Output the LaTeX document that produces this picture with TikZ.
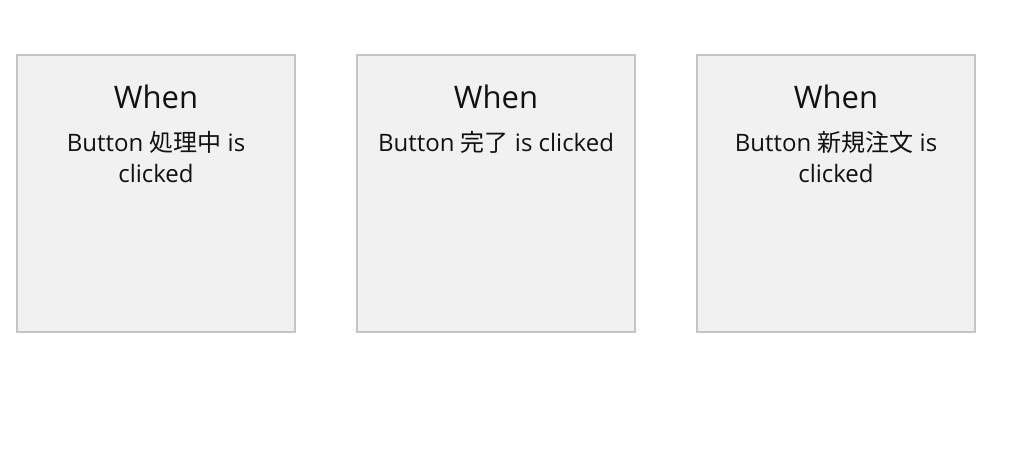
\documentclass[tikz,border=0pt]{standalone}
\usepackage{fontspec}
\setmainfont{Open Sans}
\newfontfamily\cjkfont{Noto Sans CJK JP}
\usetikzlibrary{calc}
\definecolor{boxline}{HTML}{C0C5CA}
\definecolor{boxfill}{HTML}{F0F1F0}
\definecolor{textcol}{HTML}{111111}

\begin{document}
\begin{tikzpicture}[
            x=1pt, y=-1pt,
            trigger box/.style={
                draw=boxline, fill=boxfill, line width=1.5pt,
                minimum width=278pt, minimum height=277pt,
                inner sep=0pt
            },
            title text/.style={
                font=\fontsize{31}{36}\selectfont, text=textcol,
                anchor=base, inner sep=0pt
            },
            event text/.style={
                font=\fontsize{24}{31}\selectfont, text=textcol,
                align=center, anchor=base, inner sep=0pt
            }
            ]

            \useasboundingbox (0,0) rectangle (1016,452);

            % the base of an event text is its last line
            \foreach \i/\x/\dy/\label in {1/156/128/{Button {\cjkfont 処理中} is\\clicked},
                                          2/496/97/{Button {\cjkfont 完了} is clicked},
                                          3/836/128/{Button {\cjkfont 新規注文} is\\clicked}} {
                \node[trigger box] (box\i) at (\x, 193.5) {};
                \node[title text] (when\i) at ($(box\i.north)+(0,54.5)$) {When};
                \node[event text] (event\i) at ($(box\i.north)+(0,\dy)$) {\label};
            }

        \end{tikzpicture}
\end{document}
